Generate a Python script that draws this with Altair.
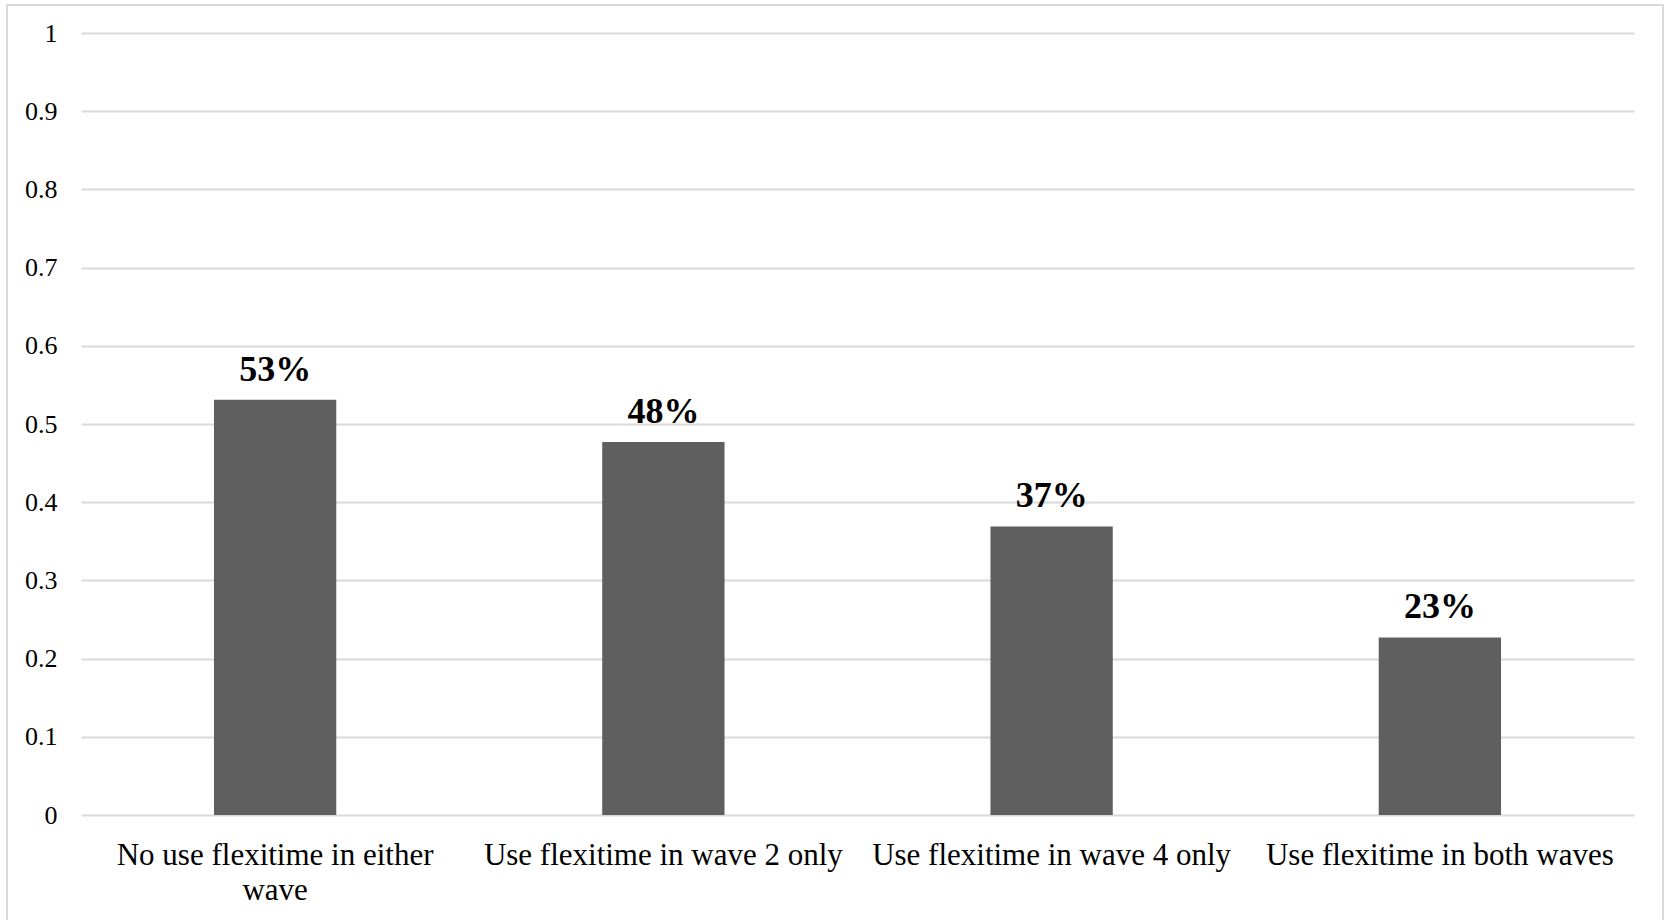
import altair as alt
import pandas as pd

categories = [
    "No use flexitime in either wave",
    "Use flexitime in wave 2 only",
    "Use flexitime in wave 4 only",
    "Use flexitime in both waves",
]
shares = [0.531, 0.477, 0.369, 0.227]
y_ticks = [0, 0.1, 0.2, 0.3, 0.4, 0.5, 0.6, 0.7, 0.8, 0.9, 1]

df = pd.DataFrame({"category": categories, "share": shares})

FONT = "'Times New Roman', 'Liberation Serif', 'DejaVu Serif', serif"

x_enc = alt.X(
    "category:N",
    sort=categories,
    scale=alt.Scale(paddingInner=0, paddingOuter=0),
    axis=alt.Axis(
        title=None,
        labelAngle=0,
        labelFont=FONT,
        labelFontSize=31,
        labelColor="#000000",
        labelPadding=25,
        labelLimit=0,
        labelLineHeight=35,
        labelBaseline="top",
        labelExpr="datum.label == 'No use flexitime in either wave' ? ['No use flexitime in either', 'wave'] : datum.label",
        ticks=False,
        tickSize=0,
        domain=False,
        grid=False,
    ),
)
y_enc = alt.Y(
    "share:Q",
    scale=alt.Scale(domain=[0, 1], nice=False),
    axis=alt.Axis(
        title=None,
        values=y_ticks,
        format="~g",
        labelFont=FONT,
        labelFontSize=26,
        labelColor="#000000",
        labelPadding=24,
        ticks=False,
        tickSize=0,
        domain=False,
        grid=True,
        gridColor="#d9d9d9",
        gridWidth=2,
    ),
)

bars = alt.Chart(df).mark_bar(
    color="#5f5f5f", width=alt.RelativeBandSize(0.315)
).encode(x=x_enc, y=y_enc)

labels = alt.Chart(df).mark_text(
    font=FONT, fontSize=36, fontWeight="bold", color="#000000",
    baseline="alphabetic", align="center", dy=-19,
).encode(
    x=alt.X("category:N", sort=categories),
    y="share:Q",
    text=alt.Text("share:Q", format=".0%"),
)

frame = alt.Chart(pd.DataFrame({"k": [0]})).mark_rect(
    fill=None, stroke="#d9d9d9", strokeWidth=2, clip=False
).encode(
    x=alt.value(-74), x2=alt.value(1582),
    y=alt.value(-28), y2=alt.value(900),
)

chart = alt.layer(frame, bars, labels).properties(
    width=1553,
    height=782,
    padding={"left": 81, "top": 33, "right": 31, "bottom": 105},
    autosize=alt.AutoSizeParams(type="none"),
    background="#ffffff",
).configure_view(stroke=None)

chart.save("out.html", embed_options={"renderer": "svg", "actions": False})
